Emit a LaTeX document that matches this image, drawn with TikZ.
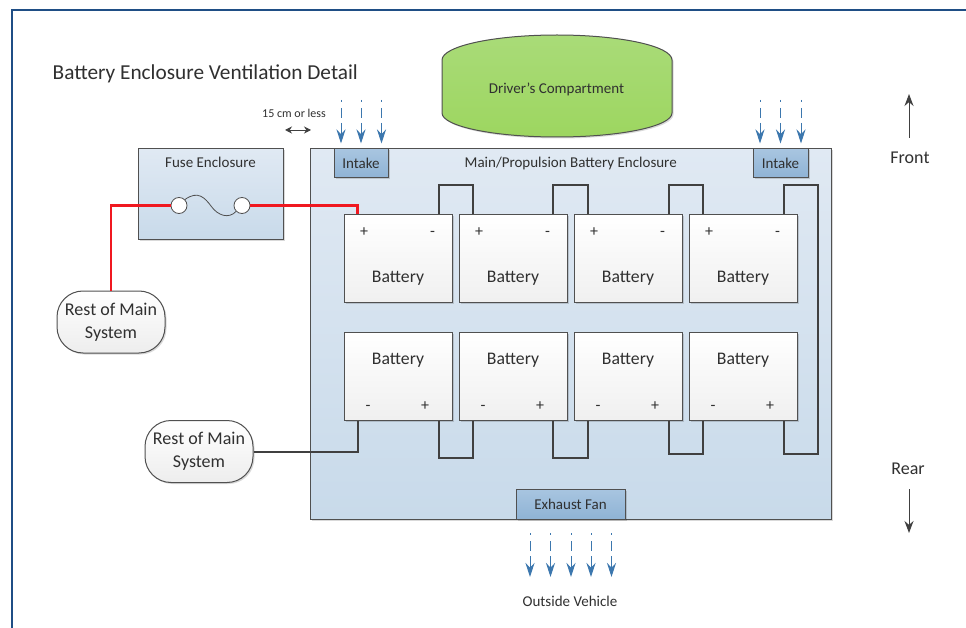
\documentclass[tikz,border=0pt]{standalone}
\usepackage{fontspec}
\setmainfont{Carlito}
\usetikzlibrary{calc}
\usetikzlibrary{positioning}
\usetikzlibrary{shadows}
\usetikzlibrary{arrows.meta}
\definecolor{framecol}{HTML}{1F4E85}
\definecolor{linecol}{HTML}{505050}
\definecolor{wirecol}{HTML}{404040}
\definecolor{redcol}{HTML}{F01820}
\definecolor{aircol}{HTML}{3C77AE}
\definecolor{textcol}{HTML}{303030}
\definecolor{encltop}{HTML}{E0E9F3}
\definecolor{enclbot}{HTML}{C8DAEA}
\definecolor{venttop}{HTML}{A8C5E0}
\definecolor{ventbot}{HTML}{8FB3D5}
\definecolor{drivertop}{HTML}{A9DB78}
\definecolor{driverbot}{HTML}{9DD660}
\newcommand{\fs}[1]{\fontsize{#1}{#1}\selectfont}

\begin{document}
\begin{tikzpicture}[x=1pt,y=-1pt,node distance=115pt,on grid,>={Stealth[length=12pt,width=9pt]},
		every node/.style={text=textcol},
		softshadow/.style={drop shadow={shadow xshift=1.5pt,shadow yshift=-1.5pt,opacity=0.15,fill=black}},
		encl/.style={rectangle,draw=linecol,line width=1pt,top color=encltop,bottom color=enclbot,softshadow,inner sep=0pt},
		vent/.style={rectangle,draw=linecol,line width=1pt,top color=venttop,bottom color=ventbot,softshadow,inner sep=0pt,font=\fs{15}},
		batt/.style={rectangle,draw=linecol,line width=1pt,top color=white,bottom color=gray!12,softshadow,minimum width=108pt,minimum height=88pt,inner sep=0pt},
		sign/.style={font=\fs{16},anchor=center,inner sep=0pt},
		topbatt/.style={batt,
			label={[font=\fs{17.7},anchor=center,inner sep=0pt,yshift=-19.5pt]center:Battery},
			label={[sign,xshift=-34pt,yshift=26.5pt]center:+},
			label={[sign,xshift=34.5pt,yshift=25pt]center:-}},
		botbatt/.style={batt,
			label={[font=\fs{17.7},anchor=center,inner sep=0pt,yshift=16pt]center:Battery},
			label={[sign,xshift=-30pt,yshift=-32pt]center:-},
			label={[sign,xshift=27pt,yshift=-30.5pt]center:+}},
		restbox/.style={rectangle,rounded corners=26pt,draw=linecol,line width=1pt,top color=white,bottom color=gray!14,softshadow,minimum width=108pt,minimum height=62pt,inner sep=0pt,align=center,font=\fs{18}},
		term/.style={circle,draw=linecol,line width=0.8pt,fill=white,minimum size=16pt,inner sep=0pt},
		wire/.style={draw=wirecol,line width=2pt},
		redwire/.style={draw=redcol,line width=2.2pt},
		air/.style={->,color=aircol,line width=1pt,shorten >=5pt,dash pattern=on 2pt off 6pt on 10pt off 5pt on 40pt,>={Stealth[length=14pt,width=9pt]}},
		plain/.style={font=\fs{15},inner sep=0pt}]
		\useasboundingbox (0,0) rectangle (966,628);
		\fill[white] (0,0) rectangle (966,628);
		\draw[framecol,line width=2.2pt] (12,628) -- (12,10) -- (966,10);

		\node[plain,anchor=west,font=\fs{21.3}] (title) at (52.5,73.5) {Battery Enclosure Ventilation Detail};
		\node[plain,font=\fs{12}] (gaplabel) at (294,113) {15 cm or less};

		% driver compartment is drawn as a shape, the text goes on top
		\path[draw=linecol,line width=1pt,top color=drivertop,bottom color=driverbot,softshadow]
		(442,60) arc[start angle=180,end angle=0,x radius=115pt,y radius=25pt] -- (672,113)
		arc[start angle=0,end angle=-180,x radius=115pt,y radius=24pt] -- cycle;
		\node[plain] (driver) at (556.5,89) {Driver's Compartment};

		% enclosures
		\node[encl,minimum width=521.5pt,minimum height=370pt] (main) at (570.75,334) {};
		\node[encl,minimum width=145pt,minimum height=91pt] (fusebox) at (210.5,194.5) {};
		\node[plain] (mainlabel) [below=8pt of main.north] {Main/Propulsion Battery Enclosure};
		\node[plain] (fuselabel) [below=8pt of fusebox.north] {Fuse Enclosure};
		\node[vent,minimum width=54pt,minimum height=29pt] (intakeA) at (361,163.5) {Intake};
		\node[vent,minimum width=55pt,minimum height=29pt] (intakeB) at (780.5,163.5) {Intake};
		\node[vent,minimum width=109pt,minimum height=30pt] (fan) at (570.5,504) {Exhaust Fan};

		% batteries
		\node[topbatt] (top1) at (398,258.5) {};
		\node[topbatt] (top2) [right=of top1] {};
		\node[topbatt] (top3) [right=of top2] {};
		\node[topbatt] (top4) [right=of top3] {};
		\node[botbatt] (bot1) [below=117.5pt of top1] {};
		\node[botbatt] (bot2) [right=of bot1] {};
		\node[botbatt] (bot3) [right=of bot2] {};
		\node[botbatt] (bot4) [right=of bot3] {};

		\node[restbox] (restA) at (111,322) {Rest of Main\\[5pt]System};
		\node[restbox] (restB) at (199,451.5) {Rest of Main\\[5pt]System};

		% fuse
		\node[term] (fuseL) at (179,205.5) {};
		\node[term] (fuseR) at (242,205.5) {};
		\draw[linecol,line width=0.8pt] (fuseL.north east) .. controls (198,190) and (205,198) .. (211,206)
		.. controls (218,216) and (229,219) .. (fuseR.south west);

		\draw[redwire] (restA.north) |- (fuseL.west);
		\draw[redwire] (fuseR.east) -| ($(top1.north west)+(14,0)$);

		% links between batteries
		\draw[wire] ($(top1.north west)+(95,0)$) -- ++(0,-29) -| ($(top2.north west)+(14,0)$);
		\draw[wire] ($(top2.north west)+(94,0)$) -- ++(0,-29) -| ($(top3.north west)+(14,0)$);
		\draw[wire] ($(top3.north west)+(95,0)$) -- ++(0,-29) -| ($(top4.north west)+(14,0)$);
		\draw[wire] ($(top4.north west)+(95,0)$) -- ++(0,-29) -- ++(34,0) |- ($(bot4.south west)+(95,33)$) -- ($(bot4.south west)+(95,0)$);
		\draw[wire] ($(bot1.south west)+(95,0)$) -- ++(0,37) -| ($(bot2.south west)+(14,0)$);
		\draw[wire] ($(bot2.south west)+(94,0)$) -- ++(0,37) -| ($(bot3.south west)+(14,0)$);
		\draw[wire] ($(bot3.south west)+(95,0)$) -- ++(0,33) -| ($(bot4.south west)+(14,0)$);
		\draw[wire] (restB.east) -| ($(bot1.south west)+(14,0)$);

		% air flow
		\coordinate (inA1) at (341,100);
		\coordinate (inA2) at (361,100);
		\coordinate (inA3) at (381.5,100);
		\coordinate (inB1) at (760,100);
		\coordinate (inB2) at (780.5,100);
		\coordinate (inB3) at (801,100);
		\coordinate (out1) at (530,533);
		\coordinate (out2) at (550.5,533);
		\coordinate (out3) at (571,533);
		\coordinate (out4) at (591,533);
		\coordinate (out5) at (611.5,533);
		\coordinate (outend) at (530,582);
		\path[air]
		(inA1) edge (inA1 |- intakeA.north)
		(inA2) edge (inA2 |- intakeA.north)
		(inA3) edge (inA3 |- intakeA.north)
		(inB1) edge (inB1 |- intakeB.north)
		(inB2) edge (inB2 |- intakeB.north)
		(inB3) edge (inB3 |- intakeB.north)
		(out1) edge (out1 |- outend)
		(out2) edge (out2 |- outend)
		(out3) edge (out3 |- outend)
		(out4) edge (out4 |- outend)
		(out5) edge (out5 |- outend);
		\node[plain] (outside) at (570,601.5) {Outside Vehicle};

		% directions
		\coordinate (gapL) at (285,130);
		\coordinate (gapR) at (311,130);
		\draw[{Stealth[length=7pt,width=7pt]}-{Stealth[length=7pt,width=7pt]},wirecol,line width=0.9pt] (gapL) -- (gapR);
		\node[plain,font=\fs{18}] (front) at (910,158) {Front};
		\node[plain,font=\fs{18}] (rear) at (908,468.5) {Rear};
		\coordinate (frontA) at (909,138);
		\coordinate (frontB) at (909,94);
		\coordinate (rearA) at (909,489);
		\coordinate (rearB) at (909,533);
		\path[->,color=wirecol,line width=1pt] (frontA) edge (frontB) (rearA) edge (rearB);
\end{tikzpicture}
\end{document}
